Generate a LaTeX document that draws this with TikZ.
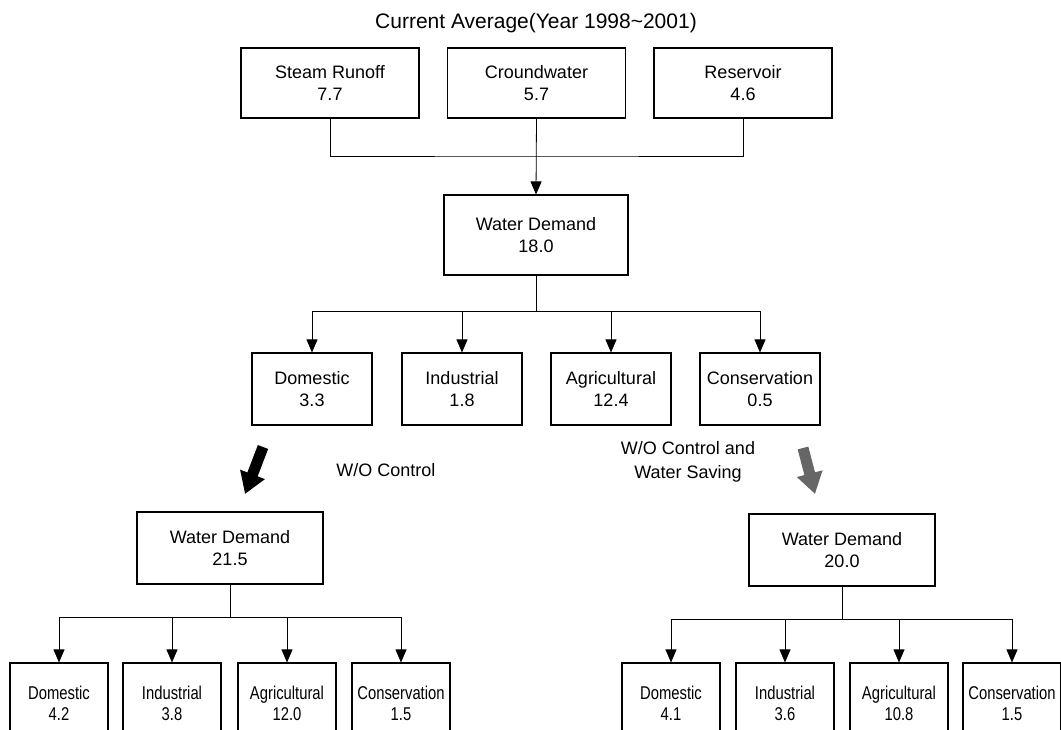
\documentclass[tikz,border=0pt]{standalone}
\usepackage{fontspec}
\setmainfont{Liberation Sans}
\newfontfamily\narrowfont[FakeStretch=0.8]{Liberation Sans}
\usetikzlibrary{arrows.meta}

\begin{document}
\begin{tikzpicture}[x=1pt,y=-1pt,
  font=\fontsize{18}{22}\selectfont,
  every node/.style={inner sep=0pt,align=center},
  srcbox/.style={draw,line width=1.1pt,minimum width=178pt,minimum height=70pt},
  dembox/.style={draw,line width=1.1pt,minimum width=186pt,minimum height=72pt},
  usebox/.style={draw,line width=1.1pt,minimum width=120pt,minimum height=72pt},
  subbox/.style={draw,line width=1.1pt,minimum width=98pt,minimum height=80pt,
    font=\narrowfont\fontsize{18.5}{21}\selectfont},
  arr/.style={line width=0.8pt,-{Triangle[width=11pt,length=13pt]}},
  bigarrow/.style={line width=11pt,-{Triangle[width=25pt,length=21pt]}}]
\useasboundingbox (0,0) rectangle (1061,730);
\node[font=\fontsize{21}{25}\selectfont] (title) at (536,23) {Current Average(Year 1998\textasciitilde 2001)};
\node[srcbox] (runoff) at (330,83) {Steam Runoff\\7.7};
\node[srcbox] (ground) at (536.5,83) {Croundwater\\5.7};
\node[srcbox] (reserv) at (743,83) {Reservoir\\4.6};
\node[dembox,minimum width=184pt,minimum height=80pt] (dem) at (536,235) {Water Demand\\18.0};
\coordinate (join) at (536.5,156);
\draw[line width=0.8pt] (runoff.south) |- (join) -| (reserv.south);
\draw[arr] (ground.south) -- (dem.north);
% current use
\foreach \nm/\px/\lab/\val in {dom/312/Domestic/3.3,ind/462/Industrial/1.8,
    agr/611/Agricultural/12.4,con/760/Conservation/0.5}
  \node[usebox] (\nm) at (\px,389) {\lab\\\val};
\coordinate (split) at (536,311);
\draw[line width=0.8pt] (dem.south) -- (split);
\foreach \nm in {dom,ind,agr,con}
  \draw[arr] (split) -| (\nm.north);
% scenarios
\coordinate (bigA) at (263,447);
\coordinate (bigAend) at (245,494);
\draw[bigarrow] (bigA) -- (bigAend);
\coordinate (bigB) at (803,448);
\coordinate (bigBend) at (815,494);
\draw[bigarrow,black!60] (bigB) -- (bigBend);
\node (noctrl) at (386,470) {W/O Control};
\node[font=\fontsize{18}{24}\selectfont] (nosave) at (688,462) {W/O Control and\\Water Saving};
% without control
\node[dembox] (demA) at (230,548) {Water Demand\\21.5};
\foreach \nm/\px/\lab/\val in {dA/59/Domestic/4.2,iA/172/Industrial/3.8,
    aA/287/Agricultural/12.0,cA/401/Conservation/1.5}
  \node[subbox] (\nm) at (\px,703) {\lab\\\val};
\coordinate (splitA) at (230,617);
\draw[line width=0.8pt] (demA.south) -- (splitA);
\foreach \nm in {dA,iA,aA,cA}
  \draw[arr] (splitA) -| (\nm.north);
% without control and water saving
\node[dembox] (demB) at (842,550) {Water Demand\\20.0};
\foreach \nm/\px/\lab/\val in {dB/671/Domestic/4.1,iB/785/Industrial/3.6,
    aB/899/Agricultural/10.8,cB/1012/Conservation/1.5}
  \node[subbox] (\nm) at (\px,703) {\lab\\\val};
\coordinate (splitB) at (842,619);
\draw[line width=0.8pt] (demB.south) -- (splitB);
\foreach \nm in {dB,iB,aB,cB}
  \draw[arr] (splitB) -| (\nm.north);
\end{tikzpicture}
\end{document}
